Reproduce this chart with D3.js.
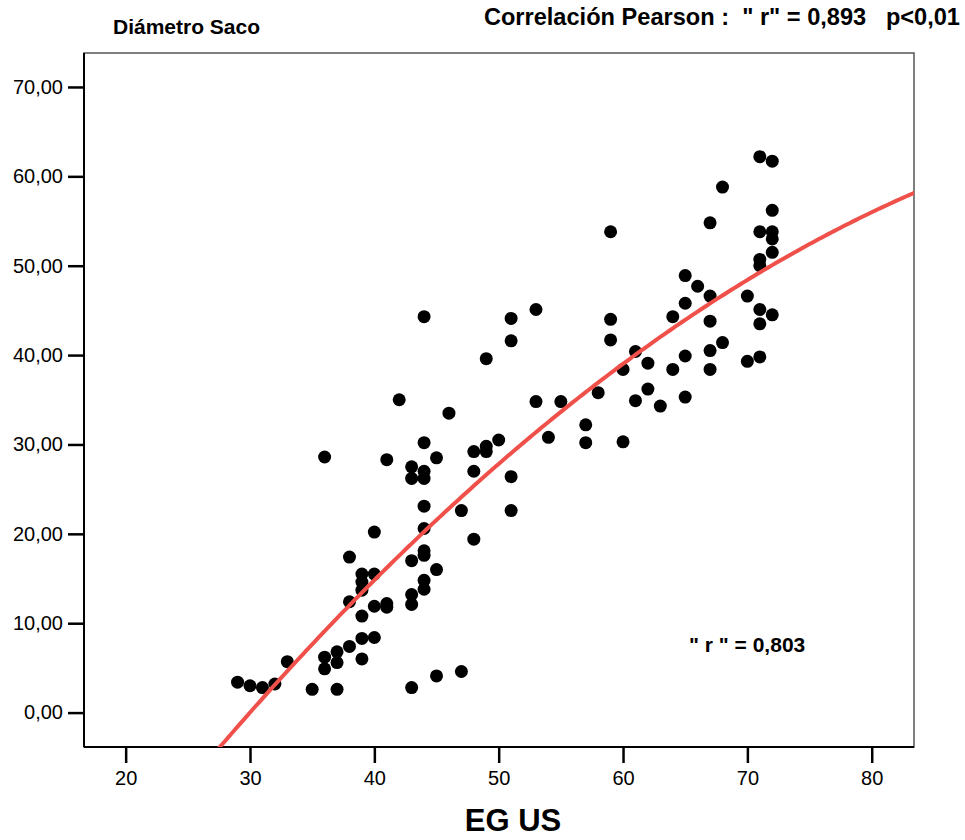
<!DOCTYPE html>
<html>
<head>
<meta charset="utf-8">
<script src="https://d3js.org/d3.v7.min.js"></script>
<style>
  body { margin: 0; background: #fff; }
  svg { font-family: "Liberation Sans", Arial, sans-serif; }
</style>
</head>
<body>
<div id="chart"></div>
<script>
// EG US (weeks) per case
var egUS = [29,30,31,32,33,35,36,36,36,37,37,37,38,38,38,39,39,39,39,39,39,40,40,40,40,
  41,41,41,42,43,43,43,43,43,43,44,44,44,44,44,44,44,44,44,44,45,45,45,46,47,47,48,48,48,
  49,49,49,50,51,51,51,51,53,53,54,55,57,57,58,59,59,59,60,60,61,61,62,62,63,64,64,
  65,65,65,65,66,67,67,67,67,67,68,68,70,70,71,71,71,71,71,71,71,72,72,72,72,72,72];
// Diámetro saco (mm), same order
var diametroSaco = [3.4,3.0,2.8,3.2,5.7,2.6,4.9,6.2,28.6,2.6,5.6,6.8,7.4,12.4,17.4,6.0,8.3,10.8,13.7,14.6,15.5,8.4,11.9,15.5,20.2,
  11.8,12.2,28.3,35.0,2.8,12.1,13.2,17.0,26.2,27.5,13.8,14.8,17.6,18.1,20.6,23.1,26.2,27.0,30.2,44.3,4.1,16.0,28.5,33.5,4.6,22.6,19.4,27.0,29.2,
  29.2,29.8,39.6,30.5,22.6,26.4,41.6,44.1,34.8,45.1,30.8,34.8,30.2,32.2,35.8,41.7,44.0,53.8,30.3,38.4,34.9,40.4,36.2,39.1,34.3,38.4,44.3,
  35.3,39.9,45.8,48.9,47.7,38.4,40.5,43.8,46.6,54.8,41.4,58.8,39.3,46.6,39.8,43.5,45.1,50.0,50.7,53.8,62.2,44.5,51.5,53.0,53.8,56.2,61.7];
// quadratic fit y = a + b*x + c*x^2
var fitCoef = [-55.3, 2.115, -0.00905];
var xTicks = [20,30,40,50,60,70,80];
var yTicks = [0,10,20,30,40,50,60,70];

var W = 965, H = 840;
var pLeft = 84, pRight = 914, pTop = 53, pBottom = 747;

var svg = d3.select("#chart").append("svg").attr("width", W).attr("height", H);

var x = d3.scaleLinear().domain([16.65, 83.4]).range([pLeft, pRight]);
var y = d3.scaleLinear().domain([-3.85, 73.8]).range([pBottom, pTop]);

// frame (top/right grey)
svg.append("rect")
  .attr("x", pLeft).attr("y", pTop)
  .attr("width", pRight-pLeft).attr("height", pBottom-pTop)
  .style("fill", "none").style("stroke", "#555").style("stroke-width", 1.5);

svg.append("defs").append("clipPath").attr("id", "plot")
  .append("rect").attr("x", pLeft).attr("y", pTop)
  .attr("width", pRight-pLeft).attr("height", pBottom-pTop);

// axes
var fmt = function(d){ return d3.format(".2f")(d).replace(".", ","); };

var gx = svg.append("g").attr("transform", "translate(0," + pBottom + ")")
  .call(d3.axisBottom(x).tickValues(xTicks).tickSize(16).tickPadding(8).tickFormat(d3.format("d")));
var gy = svg.append("g").attr("transform", "translate(" + pLeft + ",0)")
  .call(d3.axisLeft(y).tickValues(yTicks).tickSize(16).tickPadding(5).tickFormat(fmt));

[gx, gy].forEach(function(g){
  g.select(".domain").style("stroke", "#000").style("stroke-width", 2);
  g.selectAll(".tick line").style("stroke", "#000").style("stroke-width", 2.5);
  g.selectAll(".tick text").style("font-size", "20px").style("fill", "#000")
    .style("font-family", "'Liberation Sans', Arial, sans-serif");
});
gx.select(".domain").attr("d", "M" + pLeft + ",0H" + pRight);
gy.select(".domain").attr("d", "M0," + pTop + "V" + pBottom);

// fitted curve
var curveX = d3.range(27, 84.01, 0.25);
var line = d3.line()
  .x(function(d){ return x(d); })
  .y(function(d){ return y(fitCoef[0] + fitCoef[1]*d + fitCoef[2]*d*d); });

// points
svg.append("g").selectAll("circle")
  .data(egUS)
  .enter().append("circle")
  .attr("cx", function(d){ return x(d); })
  .attr("cy", function(d,i){ return y(diametroSaco[i]); })
  .attr("r", 6.5)
  .style("fill", "#000");

svg.append("path")
  .datum(curveX)
  .attr("clip-path", "url(#plot)")
  .attr("d", line)
  .style("fill", "none")
  .style("stroke", "#f0504a")
  .style("stroke-width", 4);

// texts
svg.append("text").attr("x", 113).attr("y", 34)
  .style("font-size", "21px").style("font-weight", "bold")
  .text("Diámetro Saco");

svg.append("text").attr("x", 960).attr("y", 25)
  .attr("text-anchor", "end")
  .style("font-size", "23.6px").style("font-weight", "bold")
  .style("white-space", "pre").attr("xml:space", "preserve")
  .text("Correlación Pearson :  \" r\" = 0,893   p<0,01");

svg.append("text").attr("x", 689).attr("y", 652)
  .style("font-size", "21px").style("font-weight", "bold")
  .text("\" r \" = 0,803");

svg.append("text").attr("x", (pLeft+pRight)/2 + 14).attr("y", 831)
  .attr("text-anchor", "middle")
  .style("font-size", "31px").style("font-weight", "bold")
  .text("EG US");
</script>
</body>
</html>
